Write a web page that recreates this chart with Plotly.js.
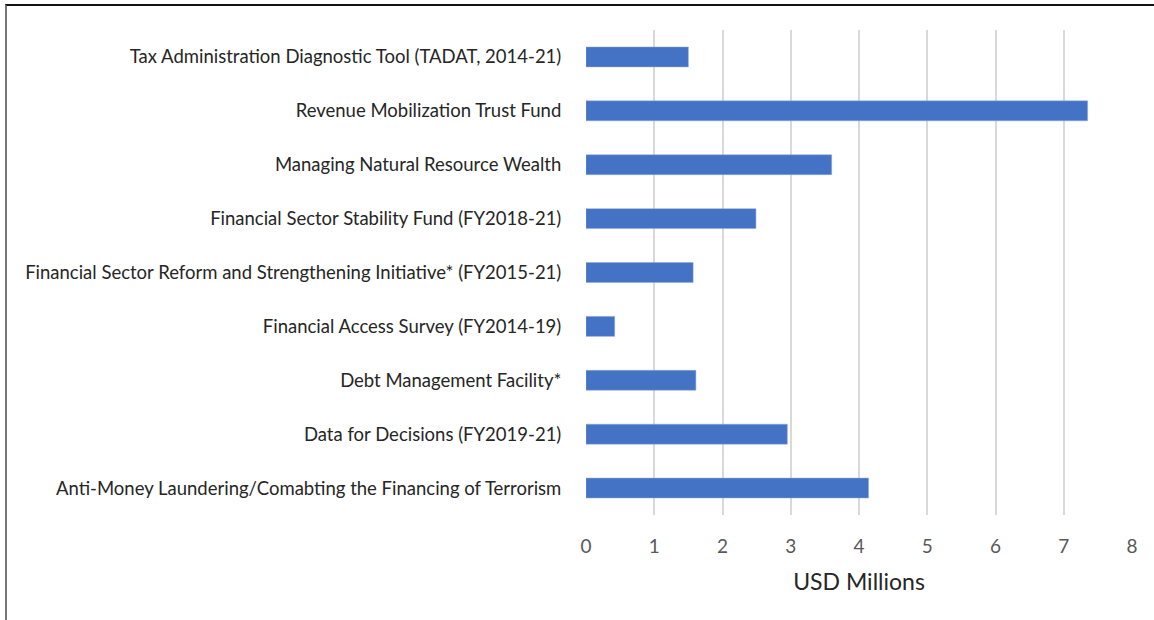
<!DOCTYPE html>
<html>
<head>
<meta charset="utf-8">
<script src="https://cdn.plot.ly/plotly-3.0.1.min.js"></script>
<style>
html,body{margin:0;padding:0;background:#fff;}
#chart{width:1154px;height:620px;}
#frame{position:absolute;left:5px;top:4px;width:1160px;height:640px;border-top:2px solid #111;border-left:2px solid #777;pointer-events:none;}
</style>
</head>
<body>
<div id="chart"></div>
<div id="frame"></div>
<script>
const categories = [
  "Tax Administration Diagnostic Tool (TADAT, 2014-21)",
  "Revenue Mobilization Trust Fund",
  "Managing Natural Resource Wealth",
  "Financial Sector Stability Fund (FY2018-21)",
  "Financial Sector Reform and Strengthening Initiative* (FY2015-21)",
  "Financial Access Survey (FY2014-19)",
  "Debt Management Facility*",
  "Data for Decisions (FY2019-21)",
  "Anti-Money Laundering/Comabting the Financing of Terrorism"
];
const values = [1.50, 7.35, 3.60, 2.49, 1.57, 0.42, 1.61, 2.95, 4.14];
const xTicks = [0, 1, 2, 3, 4, 5, 6, 7, 8];

const trace = {
  type: 'bar',
  orientation: 'h',
  y: categories,
  x: values,
  marker: {color: '#4472C4', line: {color: '#8eaadb', width: 0.5}},
  hoverinfo: 'x+y'
};

const layout = {
  width: 1154,
  height: 620,
  margin: {l: 586, r: 22, t: 30, b: 105},
  paper_bgcolor: '#fff',
  plot_bgcolor: '#fff',
  bargap: 0.63,
  showlegend: false,
  font: {family: 'Lato, Liberation Sans, Arial, sans-serif', color: '#262626'},
  xaxis: {
    range: [0, 8],
    tickvals: xTicks,
    ticktext: xTicks.map(String),
    showgrid: true,
    gridcolor: '#d9d9d9',
    gridwidth: 2,
    zeroline: false,
    showline: false,
    ticks: 'outside',
    ticklen: 14,
    tickcolor: 'rgba(0,0,0,0)',
    tickfont: {size: 19, color: '#595959', family: 'Lato, Liberation Sans, Arial, sans-serif'},
    title: {text: 'USD Millions', font: {size: 23, color: '#262626'}, standoff: 18},
    fixedrange: true
  },
  yaxis: {
    autorange: 'reversed',
    type: 'category',
    showgrid: false,
    zeroline: false,
    showline: false,
    ticks: 'outside',
    ticklen: 20,
    tickcolor: 'rgba(0,0,0,0)',
    tickfont: {size: 18.5, color: '#262626', family: 'Lato, Liberation Sans, Arial, sans-serif'},
    fixedrange: true
  }
};

Plotly.newPlot('chart', [trace], layout, {displayModeBar: false, staticPlot: true});
</script>
</body>
</html>
